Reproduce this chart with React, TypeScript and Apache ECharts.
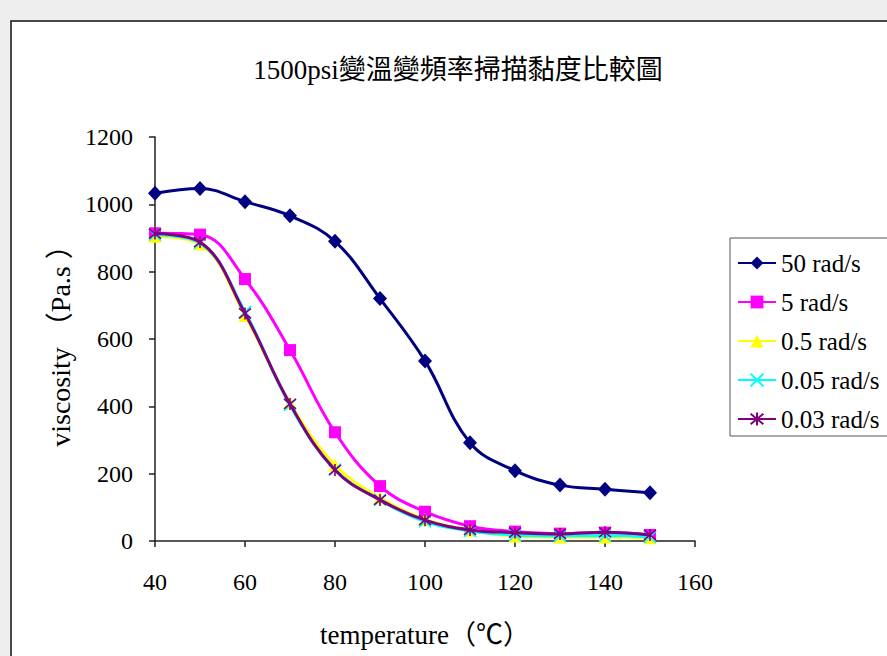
import React, { useEffect, useRef } from "react";
import * as echarts from "echarts";

const titleText = "1500psi變溫變頻率掃描黏度比較圖";
const xName = "temperature（℃）";
const yName = "viscosity （Pa.s ）";
const temps = [40, 50, 60, 70, 80, 90, 100, 110, 120, 130, 140, 150];
const seriesNames = ["50 rad/s", "5 rad/s", "0.5 rad/s", "0.05 rad/s", "0.03 rad/s"];
const v50 = [1033, 1047, 1008, 966, 890, 720, 535, 292, 209, 166, 154, 143];
const v5 = [914, 910, 778, 567, 323, 163, 87, 44, 28, 22, 25, 18];
const v05 = [905, 882, 670, 410, 226, 128, 64, 32, 15, 12, 12, 10];
const v005 = [910, 885, 680, 404, 212, 122, 58, 30, 18, 15, 16, 12];
const v003 = [913, 888, 676, 407, 211, 122, 62, 33, 25, 21, 26, 18];
const seriesValues = [v50, v5, v05, v005, v003];
const colors = ["#000080", "#ff00ff", "#ffff00", "#00ffff", "#800080"];

const FONT = "'Liberation Serif', 'Noto Sans CJK TC', serif";

const symbols = [
  "diamond",
  "rect",
  "triangle",
  "path://M0,0L10,10M10,0L0,10",
  "path://M0,0L10,10M10,0L0,10M5,-1L5,11",
];
const symbolSizes = [[14, 15], 12, 13, 12, 12];

export default function App() {
  const ref = useRef<HTMLDivElement>(null);
  useEffect(() => {
    if (!ref.current) return;
    const chart = echarts.init(ref.current, undefined, { renderer: "svg" });
    const series = seriesNames.map((name, i) => {
      const strokeOnly = i >= 3;
      return {
        name,
        type: "line",
        smooth: 0.4,
        data: temps.map((t, k) => [t, seriesValues[i][k]]),
        symbol: symbols[i],
        symbolSize: symbolSizes[i],
        showAllSymbol: true,
        lineStyle: { color: colors[i], width: 3 },
        itemStyle: strokeOnly
          ? { color: colors[i], borderColor: colors[i], borderWidth: 1.6 }
          : { color: colors[i], borderWidth: 0 },
        emphasis: { disabled: true },
        z: 2 + i,
      };
    });
    chart.setOption({
      animation: false,
      backgroundColor: "#eeeeee",
      title: {
        text: titleText,
        left: 453,
        top: 51,
        textAlign: "center",
        textStyle: { fontFamily: FONT, fontSize: 27, fontWeight: "normal", color: "#000" },
      },
      graphic: [
        {
          type: "rect",
          z: -1,
          shape: { x: 11, y: 21, width: 900, height: 700 },
          style: { fill: "#ffffff", stroke: "#111", lineWidth: 1.5 },
          silent: true,
        },
      ],
      legend: {
        orient: "vertical",
        left: 730,
        top: 238,
        padding: [12, 10, 4, 7],
        itemGap: 13,
        itemWidth: 38,
        itemHeight: 16,
        borderColor: "#555",
        borderWidth: 1,
        backgroundColor: "#fff",
        textStyle: { fontFamily: FONT, fontSize: 25, color: "#000", lineHeight: 26 },
        data: seriesNames,
      },
      grid: { left: 155, right: 192, top: 137, bottom: 115, containLabel: false },
      xAxis: {
        type: "value",
        min: 40,
        max: 160,
        interval: 20,
        name: xName,
        nameLocation: "middle",
        nameGap: 80,
        nameTextStyle: { fontFamily: FONT, fontSize: 27, color: "#000" },
        axisLine: { lineStyle: { color: "#222", width: 1.5 } },
        axisTick: { show: true, length: 6, lineStyle: { color: "#222", width: 1.5 } },
        axisLabel: { margin: 29, fontFamily: FONT, fontSize: 24, color: "#000" },
        splitLine: { show: false },
      },
      yAxis: {
        type: "value",
        min: 0,
        max: 1200,
        interval: 200,
        name: yName,
        nameLocation: "middle",
        nameGap: 79,
        nameTextStyle: { fontFamily: FONT, fontSize: 28, color: "#000" },
        axisLine: { show: true, lineStyle: { color: "#222", width: 1.5 } },
        axisTick: { show: true, length: 6, lineStyle: { color: "#222", width: 1.5 } },
        axisLabel: {
          margin: 22,
          fontFamily: FONT,
          fontSize: 24,
          color: "#000",
          formatter: (v: number) => String(v),
        },
        splitLine: { show: false },
      },
      series,
    });
    return () => chart.dispose();
  }, []);
  return (
    <div
      ref={ref}
      style={{ position: "fixed", left: 0, top: 0, width: 887, height: 656 }}
    />
  );
}
